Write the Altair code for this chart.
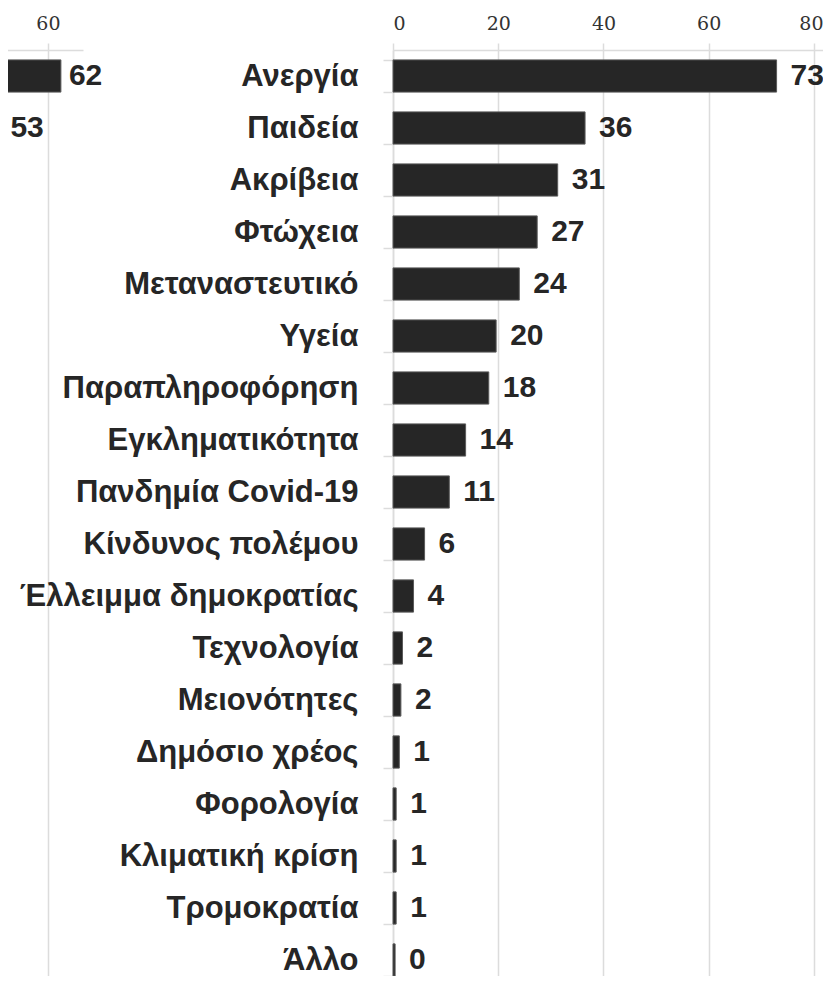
import altair as alt
import pandas as pd

categories = ["Ανεργία", "Παιδεία", "Ακρίβεια", "Φτώχεια", "Μεταναστευτικό", "Υγεία",
              "Παραπληροφόρηση", "Εγκληματικότητα", "Πανδημία Covid-19", "Κίνδυνος πολέμου",
              "Έλλειμμα δημοκρατίας", "Τεχνολογία", "Μειονότητες", "Δημόσιο χρέος",
              "Φορολογία", "Κλιματική κρίση", "Τρομοκρατία", "Άλλο"]
values = [72.9, 36.5, 31.3, 27.4, 24.0, 19.6, 18.2, 13.8, 10.7, 6.0, 3.9, 1.8, 1.5, 1.2,
          0.6, 0.6, 0.6, 0.4]
labels = ["73", "36", "31", "27", "24", "20", "18", "14", "11", "6", "4", "2", "2", "1",
          "1", "1", "1", "0"]

left_categories = ["Ανεργία", "Παιδεία"]
left_values = [62.0, 53.0]
left_labels = ["62", "53"]

right_ticks = [0, 20, 40, 60, 80]
left_ticks = [40, 60]

df_r = pd.DataFrame({"cat": categories, "val": values, "lab": labels})
df_l = pd.DataFrame({"cat": left_categories, "val": left_values, "lab": left_labels})

DARK = "#262626"
GRID = "#dcdcdc"
VALUE_FONT = "Liberation Sans"

ysc = alt.Scale(domain=categories, paddingInner=0.38, paddingOuter=0.19)

# ---------- right panel ----------
y_axis_r = alt.Axis(title=None, labelFont="Liberation Sans", labelFontWeight="bold",
                    labelFontSize=31, labelColor=DARK, labelLimit=600, tickBand="extent",
                    tickSize=10, labelPadding=25, domain=True, grid=False)
x_axis_r = alt.Axis(orient="top", values=right_ticks, title=None, grid=True, tickSize=7,
                    labelPadding=10,
                    labelOffset={"condition": {"test": "datum.value === 80", "value": -3},
                                 "value": 0})

base_r = alt.Chart(df_r).encode(
    y=alt.Y("cat:N", scale=ysc, sort=categories, axis=y_axis_r)
)
bars_r = base_r.mark_bar(color=DARK, stroke="#5a5a5a", strokeWidth=1).encode(
    x=alt.X("val:Q", scale=alt.Scale(domain=[0, 84], nice=False, zero=True), axis=x_axis_r)
)
text_r = base_r.mark_text(align="left", baseline="middle", dx=14,
                          font=VALUE_FONT, fontWeight="bold", fontSize=30,
                          color=DARK).encode(
    x=alt.X("val:Q"), text=alt.Text("lab:N")
)
right = alt.layer(bars_r, text_r).properties(width=442, height=936)

# ---------- left (cropped) panel ----------
x_axis_l = alt.Axis(orient="top", values=left_ticks, title=None, grid=True, tickSize=7,
                    labelPadding=10)
base_l = alt.Chart(df_l).encode(
    y=alt.Y("cat:N", scale=ysc, sort=categories, axis=None)
)
bars_l = base_l.mark_bar(color=DARK, stroke="#5a5a5a", strokeWidth=1).encode(
    x=alt.X("val:Q", scale=alt.Scale(domain=[0, 65.4], nice=False, zero=True), axis=x_axis_l)
)
text_l = base_l.mark_text(align="left", baseline="middle", dx=8,
                          font=VALUE_FONT, fontWeight="bold", fontSize=30,
                          color=DARK).encode(
    x=alt.X("val:Q"), text=alt.Text("lab:N")
)
left = alt.layer(bars_l, text_l).properties(width=425, height=936)

chart = alt.hconcat(left, right, spacing=310, bounds="flush").properties(
    padding={"left": -351, "top": 6, "right": -12, "bottom": -10}
).configure_view(stroke=None).configure_axis(
    gridColor=GRID, gridWidth=1.5, domainColor=GRID, domainWidth=1.5,
    tickColor=GRID, tickWidth=1.5, labelFont="DejaVu Serif", labelFontSize=19,
    labelColor="#333333"
)

chart.save("out.html", embed_options={"renderer": "svg", "actions": False})
